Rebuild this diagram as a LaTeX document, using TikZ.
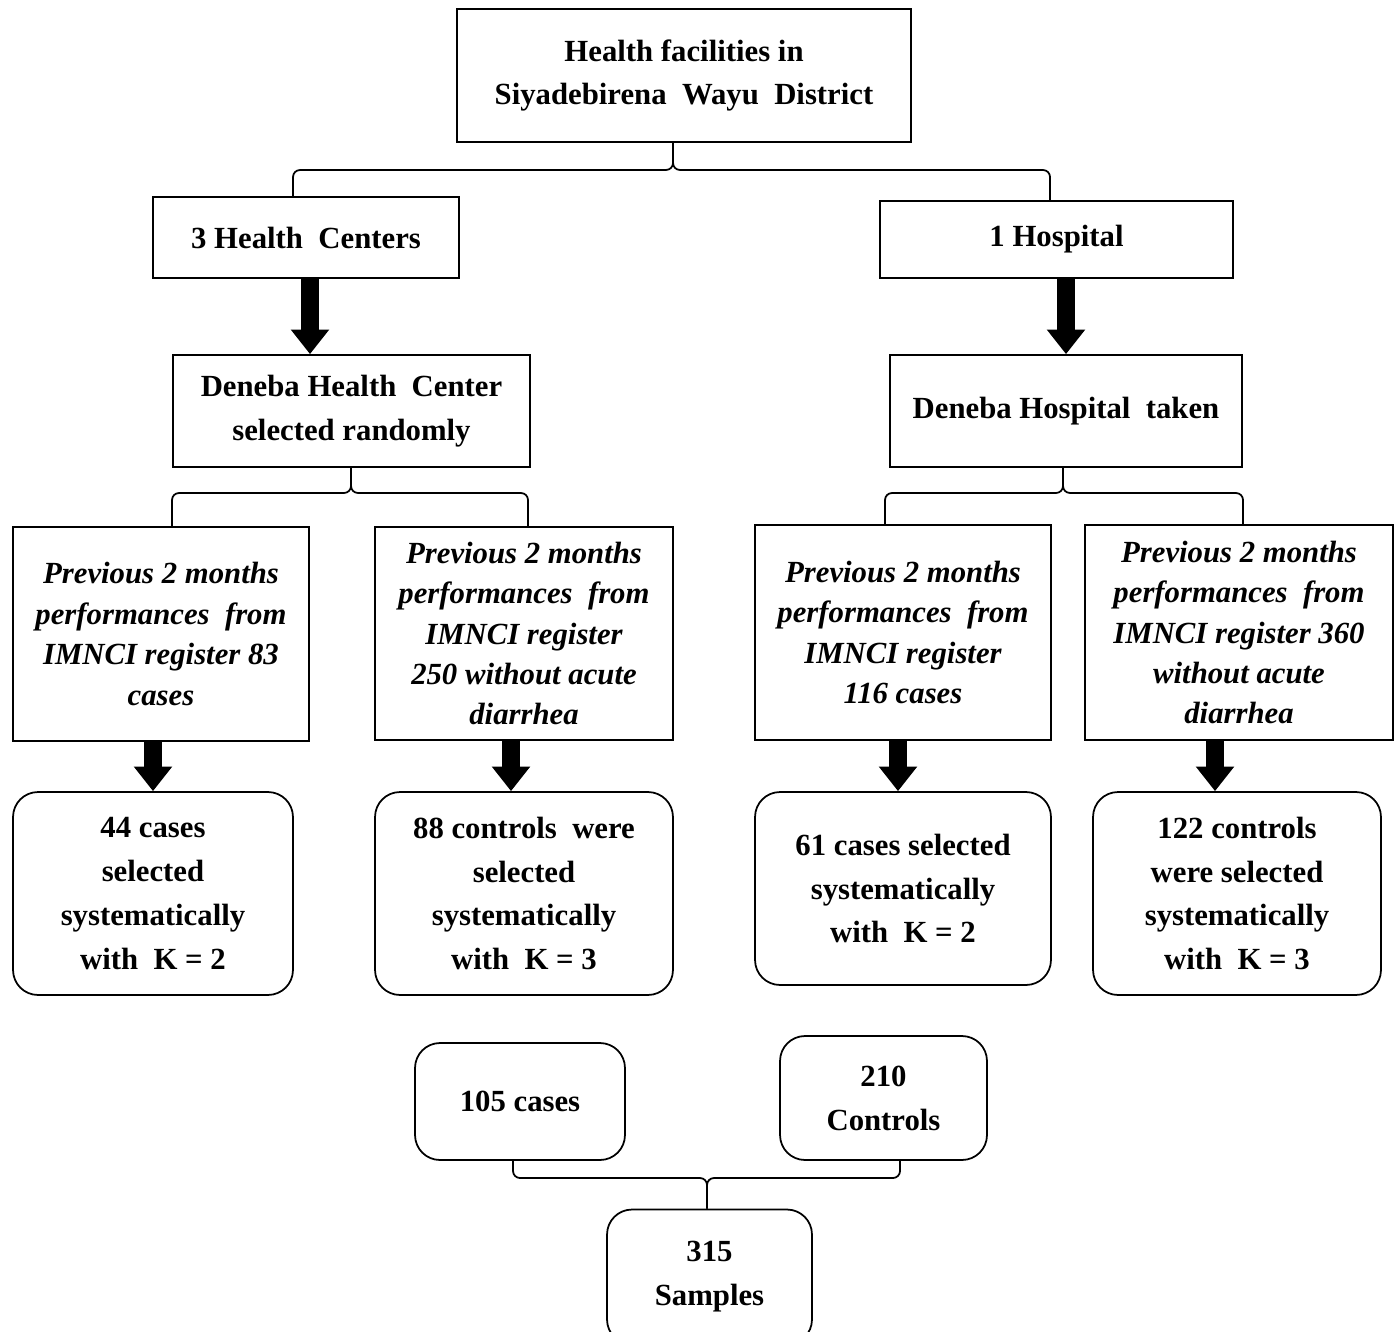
\documentclass[tikz,border=0pt]{standalone}
\usepackage{fontspec}
\setmainfont{Liberation Serif}
\usetikzlibrary{arrows.meta}
\tikzset{
  box/.style={shape=rectangle,draw=black,align=center,line width=1pt,inner sep=0pt,font=\bfseries\fontsize{17.5}{25}\selectfont},
  ibox/.style={box,font=\bfseries\itshape\fontsize{17.5}{23}\selectfont},
  rbox/.style={box,rounded corners=0.5cm},
  fat/.style={draw=black,line width=10pt,-{Triangle[width=21pt,length=14pt]}},
  brk/.style={draw=black,line width=1pt,rounded corners=4pt},
}
\begin{document}
\begin{tikzpicture}[x=0.02cm,y=-0.02cm]
\useasboundingbox (0,0) rectangle (1395,1331);
\node[box,minimum width=9.08cm,minimum height=2.66cm] (0) at (684,75.5) {Health facilities in\\Siyadebirena~ Wayu~ District};
\node[box,minimum width=6.12cm,minimum height=1.62cm] (1) at (306,237.5) {3 Health~ Centers};
\node[box,minimum width=7.06cm,minimum height=1.54cm] (2) at (1056.5,239.5) {1 Hospital};
\node[box,minimum width=7.14cm,minimum height=2.24cm] (3) at (351.5,411) {Deneba Health~ Center\\selected randomly};
\node[box,minimum width=7.04cm,minimum height=2.24cm] (4) at (1066,411) {Deneba Hospital~ taken};

\node[ibox,minimum width=5.92cm,minimum height=4.28cm] (5) at (161,634) {Previous 2 months\\performances~ from\\IMNCI register 83\\cases};
\node[ibox,minimum width=5.96cm,minimum height=4.26cm] (6) at (524,633.5) {Previous 2 months\\performances~ from\\IMNCI register\\250 without acute\\diarrhea};
\node[ibox,minimum width=5.92cm,minimum height=4.30cm] (7) at (903,632.5) {Previous 2 months\\performances~ from\\IMNCI register\\116 cases};
\node[ibox,minimum width=6.16cm,minimum height=4.30cm] (8) at (1239,632.5) {Previous 2 months\\performances~ from\\IMNCI register 360\\without acute\\diarrhea};

\node[rbox,minimum width=5.60cm,minimum height=4.06cm] (9) at (153,893.5) {44 cases\\selected\\systematically\\with~~K = 2};
\node[rbox,minimum width=5.96cm,minimum height=4.06cm] (10) at (524,893.5) {88 controls~ were\\selected\\systematically\\with~~K = 3};
\node[rbox,minimum width=5.92cm,minimum height=3.86cm] (11) at (903,888.5) {61 cases selected\\systematically\\with~~K = 2};
\node[rbox,minimum width=5.76cm,minimum height=4.06cm] (12) at (1237,893.5) {122 controls\\were selected\\systematically\\with~~K = 3};

\node[rbox,minimum width=4.20cm,minimum height=2.34cm] (13) at (520,1101.5) {105 cases};
\node[rbox,minimum width=4.14cm,minimum height=2.48cm] (14) at (883.5,1098) {210\\Controls};
\node[rbox,minimum width=4.10cm,minimum height=2.70cm] (15) at (709.5,1277) {315\\Samples};

\coordinate (s0) at (673,170);
\coordinate (s1) at (351,493);
\coordinate (s2) at (1063,493);
\coordinate (s3) at (707,1178);

\path[brk] ([xshift=-0.26cm]1.north) |- (s0) -- (s0 |- 0.south);
\path[brk] ([xshift=-0.13cm]2.north) |- (s0) -- (s0 |- 0.south);
\path[brk] ([xshift=0.22cm]5.north) |- (s1) -- (s1 |- 3.south);
\path[brk] ([xshift=0.08cm]6.north) |- (s1) -- (s1 |- 3.south);
\path[brk] ([xshift=-0.36cm]7.north) |- (s2) -- (s2 |- 4.south);
\path[brk] ([xshift=0.08cm]8.north) |- (s2) -- (s2 |- 4.south);
\path[brk] ([xshift=-0.14cm]13.south) |- (s3) -- (s3 |- 15.north);
\path[brk] ([xshift=0.33cm]14.south) |- (s3) -- (s3 |- 15.north);

\path[fat] ([xshift=0.08cm]1.south) -- ([xshift=0.08cm]1.south |- 3.north);
\path[fat] (4.north |- 2.south) -- (4.north);
\path[fat] (9.north |- 5.south) -- (9.north);
\path[fat] ([xshift=-0.26cm]10.north |- 6.south) -- ([xshift=-0.26cm]10.north);
\path[fat] ([xshift=-0.10cm]11.north |- 7.south) -- ([xshift=-0.10cm]11.north);
\path[fat] ([xshift=-0.44cm]12.north |- 8.south) -- ([xshift=-0.44cm]12.north);
\end{tikzpicture}
\end{document}
